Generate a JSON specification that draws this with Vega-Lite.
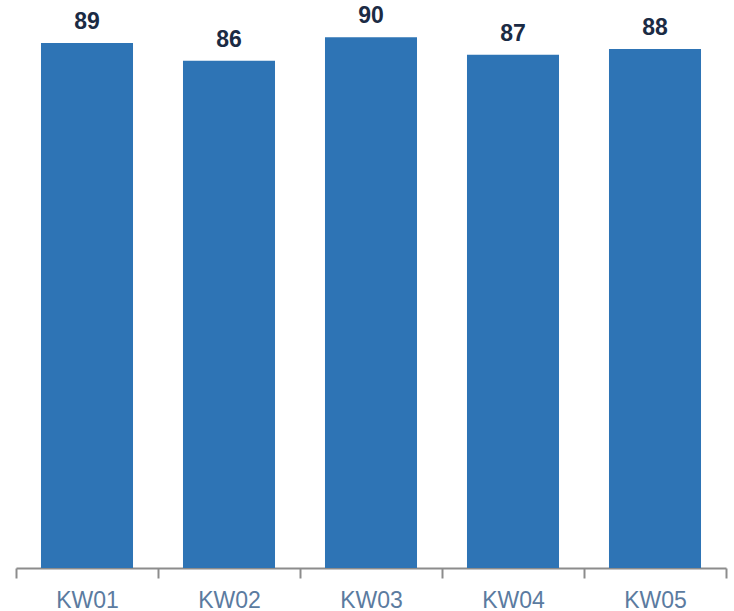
{
  "$schema": "https://vega.github.io/schema/vega-lite/v6.json",
  "width": 710,
  "height": 568,
  "autosize": {"type": "none"},
  "padding": {"left": 16, "top": 0, "right": 8, "bottom": 43},
  "background": "white",
  "config": {"view": {"stroke": null}},
  "data": {
    "values": [
      {"week": "KW01", "value": 89},
      {"week": "KW02", "value": 86},
      {"week": "KW03", "value": 90},
      {"week": "KW04", "value": 87},
      {"week": "KW05", "value": 88}
    ]
  },
  "encoding": {
    "x": {
      "field": "week",
      "type": "nominal",
      "sort": null,
      "scale": {"paddingInner": 0, "paddingOuter": 0},
      "axis": {
        "title": null,
        "labelAngle": 0,
        "labelFont": "Liberation Sans",
        "labelFontSize": 23,
        "labelColor": "#5b7ba0",
        "labelPadding": 11,
        "domainColor": "#8c8c8c",
        "domainWidth": 2,
        "tickColor": "#8c8c8c",
        "tickWidth": 2,
        "tickSize": 10,
        "tickBand": "extent"
      }
    },
    "y": {
      "field": "value",
      "type": "quantitative",
      "scale": {"domain": [0, 96.3], "nice": false, "zero": true},
      "axis": null
    }
  },
  "layer": [
    {"mark": {"type": "bar", "color": "#2e74b5", "width": {"band": 0.648}}},
    {
      "mark": {
        "type": "text",
        "baseline": "alphabetic",
        "dy": -14,
        "font": "Liberation Sans",
        "fontSize": 23,
        "fontWeight": "bold",
        "color": "#1b2b44"
      },
      "encoding": {"text": {"field": "value", "type": "quantitative"}}
    }
  ]
}
